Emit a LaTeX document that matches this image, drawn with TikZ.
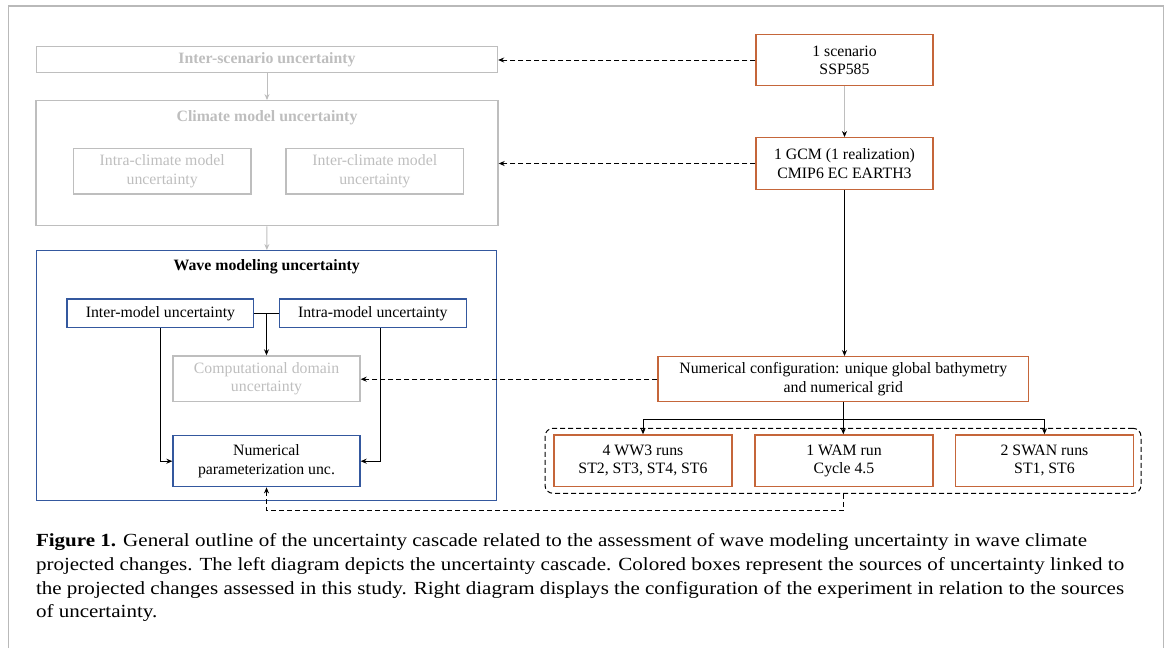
\documentclass[tikz,border=0pt]{standalone}
\usepackage{fontspec}
\setmainfont{Liberation Serif}
\newfontfamily\capfont[FakeStretch=1.137]{Liberation Serif}
\usetikzlibrary{arrows.meta}
\definecolor{runbrown}{RGB}{197,102,58}
\definecolor{waveblue}{RGB}{52,88,158}
\definecolor{fadegray}{RGB}{190,190,190}
\definecolor{framegray}{RGB}{185,185,185}
\newcommand{\boxfont}{\fontsize{15.8}{18.3}\selectfont}

\begin{document}
\begin{tikzpicture}[x=1pt, y=-1pt,
  box/.style={draw, line width=1.3pt, inner sep=0pt, align=center, font=\boxfont},
  greybox/.style={box, draw=fadegray, text=fadegray},
  bluebox/.style={box, draw=waveblue},
  runbox/.style={box, draw=runbrown},
  arr/.style={line width=1pt, -{Stealth[length=6pt,width=5pt]}},
  greyarr/.style={arr, draw=fadegray},
  thinarr/.style={line width=0.8pt, draw=fadegray, -{Stealth[length=6pt,width=5pt,color=black]}},
  dasharr/.style={arr, dash pattern=on 5pt off 3pt}]
\useasboundingbox (0,0) rectangle (1169,648);
\draw[framegray, line width=1.5pt] (8.4,648) -- (8.4,6) -- (1163.5,6) -- (1163.5,648);

\node[greybox, font=\boxfont\bfseries, minimum width=461pt, minimum height=26pt] (interscen) at (267,59.7) {Inter-scenario uncertainty};
\node[greybox, minimum width=462pt, minimum height=125pt] (climate) at (267,163.2) {};
\node[text=fadegray, font=\boxfont\bfseries] (climtitle) at (267,117.3) {Climate model uncertainty};
\node[greybox, minimum width=177.5pt, minimum height=45.3pt] (intraclim) at (162.2,171.3) {Intra-climate model\\uncertainty};
\node[greybox, minimum width=177.5pt, minimum height=45.3pt] (interclim) at (374.8,171.3) {Inter-climate model\\uncertainty};

\node[bluebox, minimum width=460pt, minimum height=250pt] (wave) at (266.7,375.7) {};
\node[font=\boxfont\bfseries] (wavetitle) at (266.7,266.7) {Wave modeling uncertainty};
\node[bluebox, minimum width=186.7pt, minimum height=28.7pt] (intermod) at (160.4,313.3) {Inter-model uncertainty};
\node[bluebox, minimum width=186.7pt, minimum height=28.7pt] (intramod) at (372.8,313.3) {Intra-model uncertainty};
\node[greybox, minimum width=187pt, minimum height=45.7pt] (compdom) at (266.5,378.8) {Computational domain\\uncertainty};
\node[bluebox, minimum width=187pt, minimum height=51pt] (numparam) at (266.5,461.2) {Numerical\\parameterization unc.};

\node[runbox, minimum width=177pt, minimum height=51.4pt] (ssp) at (844.5,60) {1 scenario\\SSP585};
\node[runbox, minimum width=177pt, minimum height=51.6pt] (gcm) at (844.5,163.5) {1 GCM (1 realization)\\CMIP6 EC EARTH3};
\node[runbox, minimum width=370.5pt, minimum height=45pt] (numconf) at (843.3,379.2) {Numerical configuration: unique global bathymetry\\and numerical grid};
\node[draw, dash pattern=on 5pt off 3pt, line width=1pt, rounded corners=8pt, minimum width=596pt, minimum height=65pt] (runs) at (843,460.8) {};
\node[runbox, minimum width=178pt, minimum height=51.7pt] (ww3) at (643,460.8) {4 WW3 runs\\ST2, ST3, ST4, ST6};
\node[runbox, minimum width=178pt, minimum height=51.7pt] (wam) at (844,460.8) {1 WAM run\\Cycle 4.5};
\node[runbox, minimum width=178pt, minimum height=51.7pt] (swan) at (1044.5,460.8) {2 SWAN runs\\ST1, ST6};

\draw[greyarr] (interscen) -- (climate);
\draw[greyarr] (climate) -- (wave);
\draw[thinarr] (ssp) -- (gcm);
\draw[arr] (gcm.south) -- (gcm.south |- numconf.north);
\draw[dasharr] (ssp.west) -- (ssp.west -| interscen.east);
\draw[dasharr] (gcm.west) -- (gcm.west -| climate.east);
\draw[dasharr] (numconf.west) -- (numconf.west -| compdom.east);

\draw[line width=1pt] (intermod.east) -- (intramod.west);
\draw[arr] (intermod.east -| compdom.north) -- (compdom.north);
\draw[arr] (intermod.south) |- (numparam.west);
\draw[arr] ([xshift=8pt]intramod.south) |- (numparam.east);

\draw[line width=1pt] (numconf.south) -- ++(0,17.6) coordinate (split);
\draw[line width=1pt] (split -| ww3.north) -- (split -| swan.north);
\draw[arr] (split -| ww3.north) -- (ww3.north);
\draw[arr] (split) -- (split |- wam.north);
\draw[arr] (split -| swan.north) -- (swan.north);
\draw[dasharr] (runs.south) -- ++(0,16.7) -| (numparam.south);

\node[anchor=north west, align=left, inner sep=0pt, font=\capfont\fontsize{18.5}{23.9}\selectfont] (caption) at (35.8,533) {\textbf{Figure 1.} General outline of the uncertainty cascade related to the assessment of wave modeling uncertainty in wave climate\\
projected changes. The left diagram depicts the uncertainty cascade. Colored boxes represent the sources of uncertainty linked to\\
the projected changes assessed in this study. Right diagram displays the configuration of the experiment in relation to the sources\\
of uncertainty.};
\end{tikzpicture}
\end{document}
